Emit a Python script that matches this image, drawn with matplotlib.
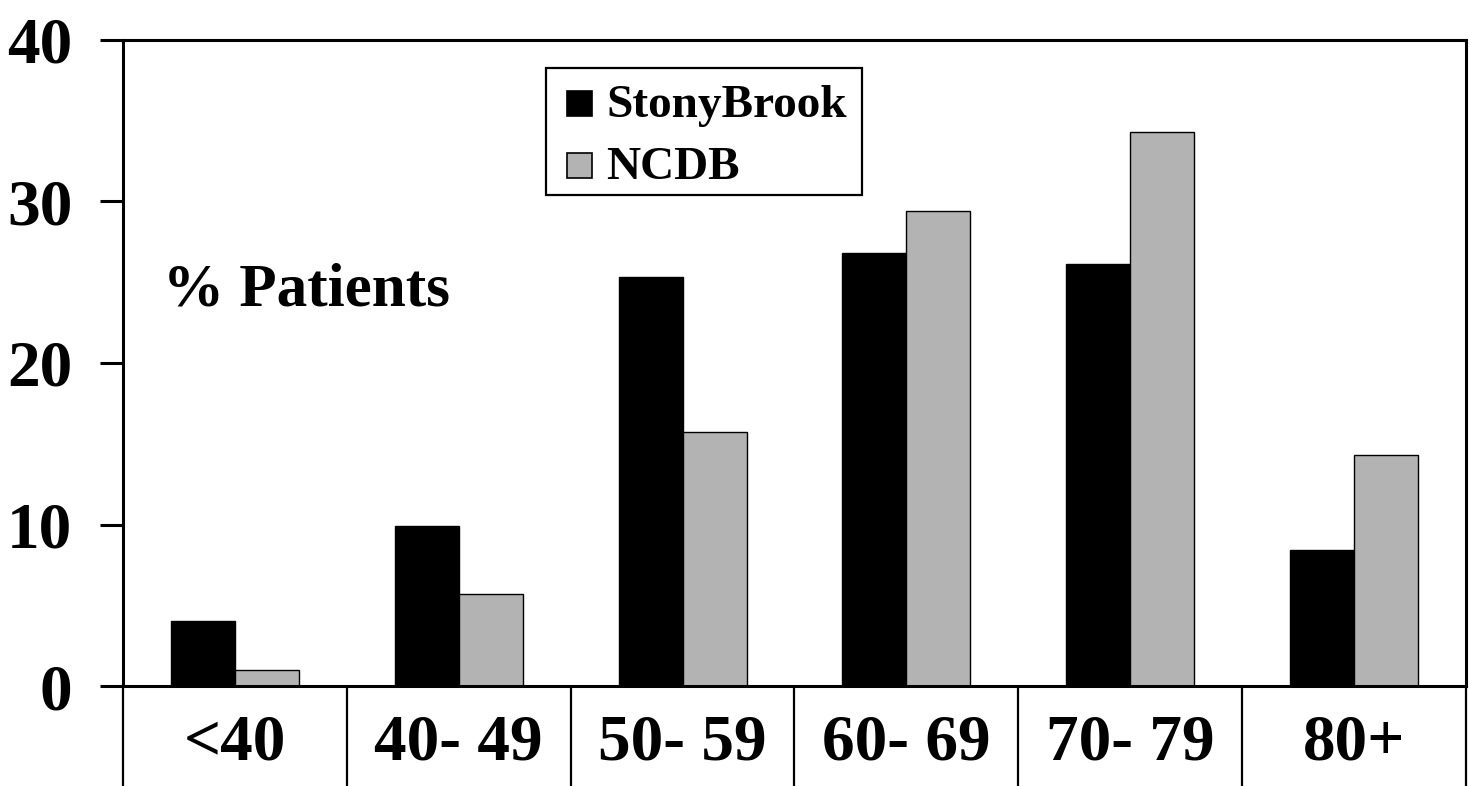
import matplotlib
matplotlib.use("Agg")
import matplotlib.pyplot as plt
from matplotlib.patches import Rectangle
import numpy as np

age_groups = ["<40", "40- 49", "50- 59", "60- 69", "70- 79", "80+"]
stonybrook = [4.0, 9.9, 25.3, 26.8, 26.1, 8.4]
ncdb = [1.0, 5.7, 15.7, 29.4, 34.3, 14.3]
series_names = ["StonyBrook", "NCDB"]
series_colors = ["black", "#b3b3b3"]
y_ticks = [0, 10, 20, 30, 40]

plt.rcParams["font.family"] = ["Liberation Serif", "DejaVu Serif"]
plt.rcParams["font.weight"] = "bold"

W, H = 1470, 786
AX_L, AX_T, AX_R, AX_B = 123, 40, 1466, 686
AW, AH = AX_R - AX_L, AX_B - AX_T


def px(xp, yp):
    # pixel position -> axes fraction
    return (xp - AX_L) / AW, (AX_B - yp) / AH


fig = plt.figure(figsize=(W / 100, H / 100), dpi=100)
ax = fig.add_axes([AX_L / W, (H - AX_B) / H, AW / W, AH / H])

x = np.arange(len(age_groups))
bw = 0.286
ax.bar(x - bw / 2, stonybrook, bw, color=series_colors[0], edgecolor="black",
       linewidth=1.0)
ax.bar(x + bw / 2, ncdb, bw, color=series_colors[1], edgecolor="black",
       linewidth=1.0)

ax.set_xlim(-0.5, len(age_groups) - 0.5)
ax.set_ylim(0, 40)
ax.set_yticks(y_ticks)
ax.set_yticklabels([str(t) for t in y_ticks], fontsize=47, fontweight="bold")
ax.tick_params(axis="y", direction="out", length=16.5, width=2.2, pad=20)
ax.set_xticks([])
for s in ax.spines.values():
    s.set_linewidth(2.2)

# category separators below the axis
trans = ax.get_xaxis_transform()
bounds = np.arange(len(age_groups) + 1) - 0.5
ax.vlines(bounds, -(H - AX_B) / AH, 0, transform=trans, colors="black",
          linewidth=1.6, clip_on=False)
for i, lab in enumerate(age_groups):
    ax.text(i, -74 / AH, lab, transform=trans, ha="center", va="baseline",
            fontsize=47, fontweight="bold")

ax.text(*px(163, 306), "% Patients", transform=ax.transAxes,
        ha="left", va="baseline", fontsize=44, fontweight="bold")

# legend box drawn by hand
x0, y1 = px(546, 68)
x1, y0 = px(862, 195)
ax.add_patch(Rectangle((x0, y0), x1 - x0, y1 - y0, transform=ax.transAxes,
                       facecolor="white", edgecolor="black", linewidth=1.6,
                       zorder=5))
for name, col, yc in zip(series_names, series_colors, [103, 165]):
    sx0, sy1 = px(567, yc - 12.5)
    sx1, sy0 = px(592, yc + 12.5)
    ax.add_patch(Rectangle((sx0, sy0), sx1 - sx0, sy1 - sy0,
                           transform=ax.transAxes, facecolor=col,
                           edgecolor="black", linewidth=1.2, zorder=6))
    ax.text(*px(606, yc + 14), name, transform=ax.transAxes, ha="left",
            va="baseline", fontsize=34, fontweight="bold", zorder=7)

fig.savefig("out.png", dpi=100)
